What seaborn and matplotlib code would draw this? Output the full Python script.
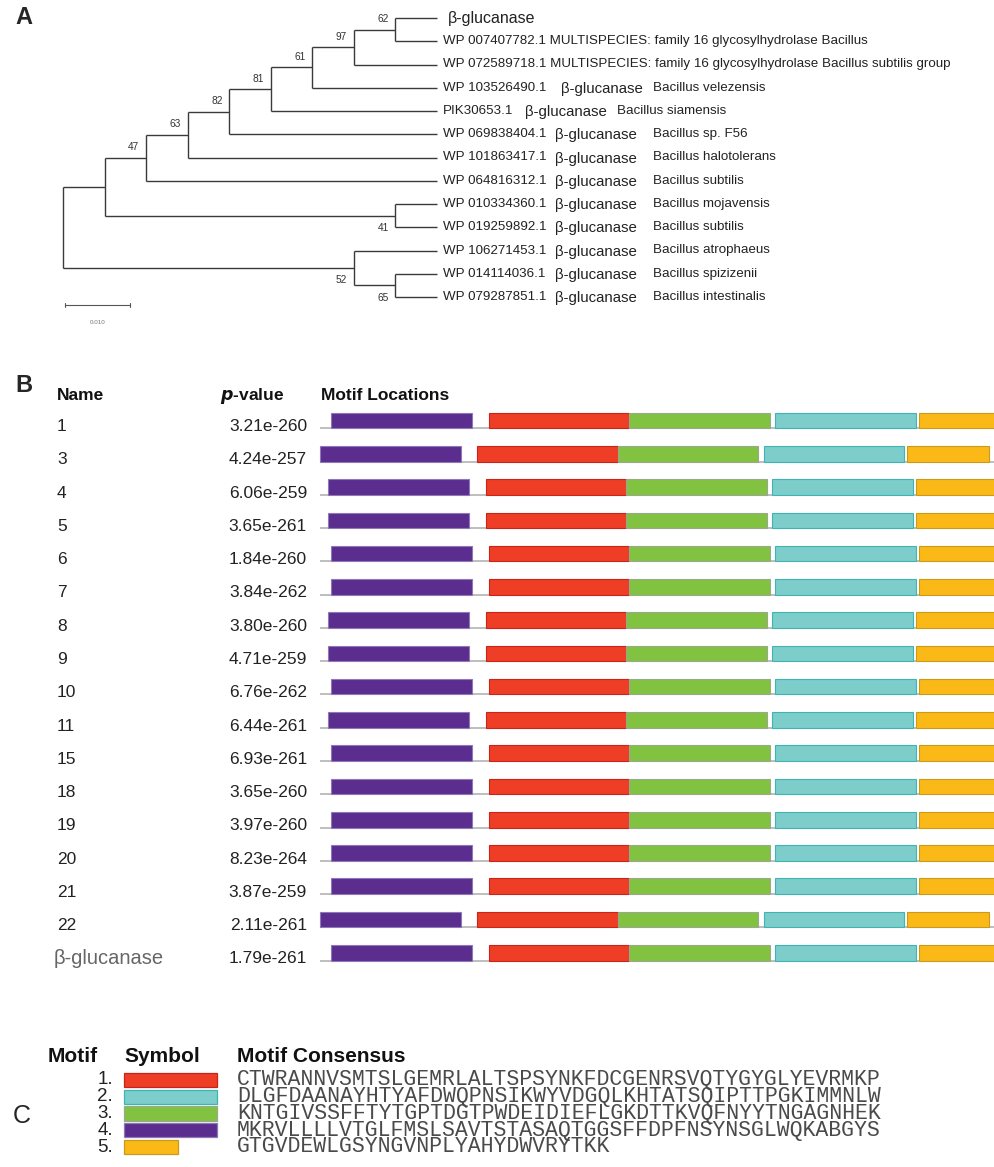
import matplotlib
matplotlib.use("Agg")
import matplotlib.pyplot as plt
import matplotlib.transforms as mtransforms
import seaborn as sns

sns.set_theme(style="white")
plt.rcParams['font.family'] = ['Liberation Sans', 'DejaVu Sans']

W, H, DPI = 995, 1167, 100

# ------------------------------------------------------------------ data A
# phylogenetic tree (Newick; leaf names are indices into the label lists)
TREE_NEWICK = ("(((((((((0:0.0064,1:0.0064)62:0.0064,2:0.0128)97:0.0064,"
               "3:0.0192)61:0.0064,4:0.0256)81:0.0064,5:0.0320)82:0.0064,"
               "6:0.0384)63:0.0064,7:0.0448)47:0.0064,"
               "(8:0.0064,9:0.0064)41:0.0448):0.0064,"
               "(10:0.0128,(11:0.0064,12:0.0064)65:0.0064)52:0.0448);")
LEAF_ACCESSION = ["", "WP 007407782.1", "WP 072589718.1", "WP 103526490.1",
                  "PIK30653.1", "WP 069838404.1", "WP 101863417.1",
                  "WP 064816312.1", "WP 010334360.1", "WP 019259892.1",
                  "WP 106271453.1", "WP 014114036.1", "WP 079287851.1"]
LEAF_PROTEIN = ["β-glucanase",
                "MULTISPECIES: family 16 glycosylhydrolase Bacillus",
                "MULTISPECIES: family 16 glycosylhydrolase Bacillus subtilis group",
                "β-glucanase", "β-glucanase", "β-glucanase", "β-glucanase",
                "β-glucanase", "β-glucanase", "β-glucanase", "β-glucanase",
                "β-glucanase", "β-glucanase"]
LEAF_SPECIES = ["", "", "", "Bacillus velezensis", "Bacillus siamensis",
                "Bacillus sp. F56", "Bacillus halotolerans", "Bacillus subtilis",
                "Bacillus mojavensis", "Bacillus subtilis", "Bacillus atrophaeus",
                "Bacillus spizizenii", "Bacillus intestinalis"]
BOOTSTRAP_BELOW = ["41", "52", "65"]
SCALE_BAR = 0.010

# ------------------------------------------------------------------ data B
SEQ_NAMES = ["1", "3", "4", "5", "6", "7", "8", "9", "10", "11", "15", "18",
             "19", "20", "21", "22", "β-glucanase"]
P_VALUES = ["3.21e-260", "4.24e-257", "6.06e-259", "3.65e-261", "1.84e-260",
            "3.84e-262", "3.80e-260", "4.71e-259", "6.76e-262", "6.44e-261",
            "6.93e-261", "3.65e-260", "3.97e-260", "8.23e-264", "3.87e-259",
            "2.11e-261", "1.79e-261"]
MOTIF4_START = [4, 0, 3, 3, 4, 4, 3, 3, 4, 3, 4, 4, 4, 4, 4, 0, 4]
MOTIF1_START = [60, 56, 59, 59, 60, 60, 59, 59, 60, 59, 60, 60, 60, 60, 60, 56, 60]
MOTIF3_START = [110, 106, 109, 109, 110, 110, 109, 109, 110, 109, 110, 110, 110, 110, 110, 106, 110]
MOTIF2_START = [162, 158, 161, 161, 162, 162, 161, 161, 162, 161, 162, 162, 162, 162, 162, 158, 162]
MOTIF5_START = [213, 209, 212, 212, 213, 213, 212, 212, 213, 212, 213, 213, 213, 213, 213, 209, 213]
SEQ_LENGTH = 260

# ------------------------------------------------------------------ data C
MOTIF_IDS = ["1.", "2.", "3.", "4.", "5."]
MOTIF_CONSENSUS = ["CTWRANNVSMTSLGEMRLALTSPSYNKFDCGENRSVQTYGYGLYEVRMKP",
                   "DLGFDAANAYHTYAFDWQPNSIKWYVDGQLKHTATSQIPTTPGKIMMNLW",
                   "KNTGIVSSFFTYTGPTDGTPWDEIDIEFLGKDTTKVQFNYYTNGAGNHEK",
                   "MKRVLLLLVTGLFMSLSAVTSTASAQTGGSFFDPFNSYNSGLWQKABGYS",
                   "GTGVDEWLGSYNGVNPLYAHYDWVRYTKK"]
MOTIF_FILL = ["#ee3e25", "#7dcdcb", "#82c241", "#5b2d8e", "#fbb917"]
MOTIF_EDGE = ["#c9241a", "#3fb5b3", "#9aa88e", "#8f78b8", "#c99a1c"]

fig = plt.figure(figsize=(W / DPI, H / DPI), dpi=DPI)


def px_axes(y0, y1):
    ax = fig.add_axes([0, 1 - y1 / H, 1, (y1 - y0) / H])
    ax.set_axis_off()
    return ax


# ================================================================== A
def parse_newick(s):
    pos = 0

    def node():
        nonlocal pos
        kids = []
        if s[pos] == '(':
            pos += 1
            while True:
                kids.append(node())
                if s[pos] == ',':
                    pos += 1
                    continue
                pos += 1
                break
        start = pos
        while pos < len(s) and s[pos] not in ',);':
            pos += 1
        label, _, length = s[start:pos].partition(':')
        return {"label": label, "len": float(length) if length else 0.0,
                "kids": kids}
    return node()


tree = parse_newick(TREE_NEWICK)


def layout(n, x0):
    n["x"] = x0 + n["len"]
    if not n["kids"]:
        n["y"] = float(int(n["label"]))
    else:
        for k in n["kids"]:
            layout(k, n["x"])
        n["y"] = (n["kids"][0]["y"] + n["kids"][-1]["y"]) / 2


layout(tree, 0.0)

axA = px_axes(0, 335)
tip_depth = 9 * 0.0064
ppu = (437 - 63) / tip_depth
axA.set_xlim(-63 / ppu, (W - 63) / ppu)
leaf_px0, leaf_dy = 18.0, 23.25
axA.set_ylim((335 - leaf_px0) / leaf_dy, (0 - leaf_px0) / leaf_dy)
line_kw = dict(color="#3a3a3a", lw=1.0, solid_capstyle="butt")
bfrac = mtransforms.blended_transform_factory(axA.transAxes, axA.transData)


def draw(n):
    if n["kids"]:
        axA.plot([n["x"], n["x"]], [n["kids"][0]["y"], n["kids"][-1]["y"]], **line_kw)
        for k in n["kids"]:
            axA.plot([n["x"], k["x"]], [k["y"], k["y"]], **line_kw)
            draw(k)
        if n["label"]:
            below = n["label"] in BOOTSTRAP_BELOW
            axA.annotate(n["label"], (n["x"], n["y"]),
                         xytext=(-9, -9 if below else 7.5), textcoords="offset points",
                         ha="center", va="center", fontsize=7.3, color="#333333")


draw(tree)

for i in range(len(LEAF_ACCESSION)):
    if i == 0:
        axA.text(448 / W, i, LEAF_PROTEIN[i], transform=bfrac, fontsize=11.5,
                 va="center", color="#222222")
    elif LEAF_SPECIES[i] == "":
        axA.text(443 / W, i, LEAF_ACCESSION[i] + " " + LEAF_PROTEIN[i],
                 transform=bfrac, fontsize=9.6, va="center", color="#222222")
    else:
        prot_x = 561 if i == 3 else (525 if i == 4 else 555)
        sp_x = 617 if i == 4 else 653
        axA.text(443 / W, i, LEAF_ACCESSION[i], transform=bfrac, fontsize=9.6,
                 va="center", color="#222222")
        axA.text(prot_x / W, i + 0.05, LEAF_PROTEIN[i], transform=bfrac,
                 fontsize=10.8, va="center", color="#222222")
        axA.text(sp_x / W, i, LEAF_SPECIES[i], transform=bfrac, fontsize=9.6,
                 va="center", color="#222222")

sb_y = (305 - leaf_px0) / leaf_dy
sb_x0 = (65 - 63) / ppu
axA.plot([sb_x0, sb_x0 + SCALE_BAR], [sb_y, sb_y], color="#555555", lw=0.8)
for xx in (sb_x0, sb_x0 + SCALE_BAR):
    axA.plot([xx, xx], [sb_y - 0.1, sb_y + 0.1], color="#555555", lw=0.8)
axA.text(sb_x0 + SCALE_BAR / 2, (323 - leaf_px0) / leaf_dy, f"{SCALE_BAR:.3f}",
         ha="center", va="center", fontsize=4.5, color="#777777")

# ================================================================== B
axB = px_axes(370, 990)
row_px0, row_dy = 428.3, 33.27
ppa = 2.81
axB.set_xlim(-320 / ppa, (W - 320) / ppa)
axB.set_ylim((990 - row_px0) / row_dy, (370 - row_px0) / row_dy)
bB = mtransforms.blended_transform_factory(axB.transAxes, axB.transData)
nrow = len(SEQ_NAMES)
rows = list(range(nrow))
bar_h = 15.6 / row_dy

for r in rows:
    axB.plot([0, SEQ_LENGTH], [r, r], color="#b9b9b9", lw=1.3, zorder=1,
             solid_capstyle="butt")

starts_by_motif = {4: MOTIF4_START, 1: MOTIF1_START, 3: MOTIF3_START,
                   2: MOTIF2_START, 5: MOTIF5_START}
for m, starts in starts_by_motif.items():
    length = len(MOTIF_CONSENSUS[m - 1])
    axB.barh([r - bar_h for r in rows], [length] * nrow, left=starts,
             height=bar_h, align="edge", color=MOTIF_FILL[m - 1],
             edgecolor=MOTIF_EDGE[m - 1], linewidth=0.8, zorder=2)

head_y = (396 - row_px0) / row_dy
axB.text(57 / W, head_y, "Name", transform=bB, fontsize=12.5, fontweight="bold",
         va="center", color="#111111")
axB.text(220 / W, head_y, r"$\boldsymbol{p}$-value", transform=bB, fontsize=12.5,
         fontweight="bold", va="center", color="#111111")
axB.text(321 / W, head_y, "Motif Locations", transform=bB, fontsize=12.5,
         fontweight="bold", va="center", color="#111111")
for r in rows:
    if SEQ_NAMES[r] == "β-glucanase":
        axB.text(54 / W, r - 0.05, SEQ_NAMES[r], transform=bB, fontsize=14.5,
                 va="center", color="#666666")
    else:
        axB.text(57 / W, r - 0.05, SEQ_NAMES[r], transform=bB, fontsize=12.5,
                 va="center", color="#222222")
    axB.text(307 / W, r - 0.05, P_VALUES[r], transform=bB, fontsize=12.5,
             va="center", ha="right", color="#222222")

# ================================================================== C
axC = px_axes(1030, H)
c_row0, c_dy = 1080.0, 16.75
c_ppa = 93 / 50
axC.set_xlim(-124 / c_ppa, (W - 124) / c_ppa)
axC.set_ylim((H - c_row0) / c_dy, (1030 - c_row0) / c_dy)
bC = mtransforms.blended_transform_factory(axC.transAxes, axC.transData)
crow = list(range(len(MOTIF_IDS)))
axC.barh(crow, [len(s) for s in MOTIF_CONSENSUS], left=0, height=0.84,
         color=MOTIF_FILL, edgecolor=MOTIF_EDGE, linewidth=0.9)
ch_y = (1056 - c_row0) / c_dy
for xp, t in [(48, "Motif"), (124, "Symbol"), (237, "Motif Consensus")]:
    axC.text(xp / W, ch_y, t, transform=bC, fontsize=15, fontweight="bold",
             va="center", color="#111111")
for r in crow:
    axC.text(113 / W, r, MOTIF_IDS[r], transform=bC, fontsize=13.5, ha="right",
             va="center", color="#222222")
    axC.text(237 / W, r, MOTIF_CONSENSUS[r], transform=bC, fontsize=15.5,
             va="center", color="#4a4a4a", family=["Liberation Mono", "DejaVu Sans Mono"])

# ------------------------------------------------------------------ panel letters
fig.text(15 / W, 1 - 18 / H, "A", fontsize=17, fontweight="bold", va="center")
fig.text(15 / W, 1 - 385 / H, "B", fontsize=17, fontweight="bold", va="center")
fig.text(13 / W, 1 - 1116 / H, "C", fontsize=18, va="center")

fig.savefig("out.png", dpi=DPI)
